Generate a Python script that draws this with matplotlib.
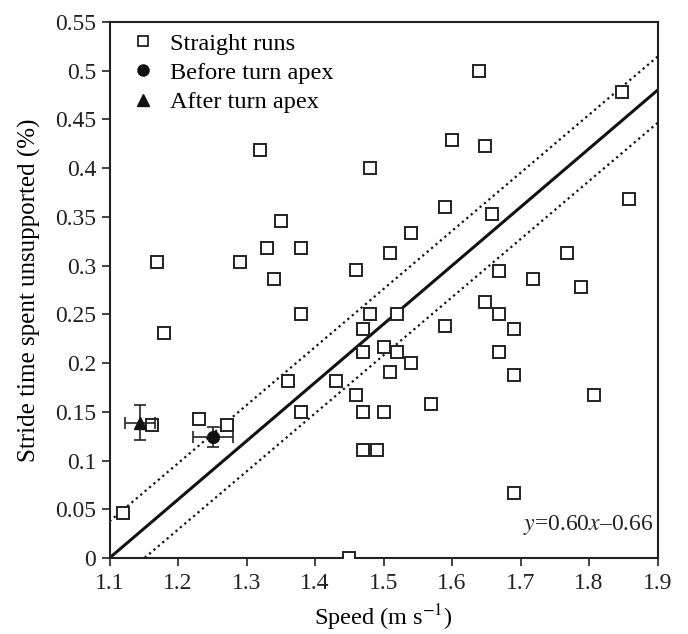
import matplotlib
matplotlib.use("Agg")
import matplotlib.pyplot as plt
import numpy as np
from matplotlib.lines import Line2D

plt.rcParams['font.family'] = ['Liberation Serif', 'DejaVu Serif']
plt.rcParams['mathtext.fontset'] = 'stix'

# Straight runs
straight_x = [1.12, 1.162, 1.17, 1.18, 1.231, 1.271, 1.29, 1.32, 1.33, 1.34,
              1.35, 1.36, 1.38, 1.38, 1.38, 1.43, 1.45, 1.46, 1.46, 1.47,
              1.47, 1.47, 1.47, 1.48, 1.48, 1.49, 1.50, 1.50, 1.51, 1.51,
              1.52, 1.52, 1.54, 1.54, 1.57, 1.59, 1.59, 1.60, 1.64, 1.648,
              1.648, 1.658, 1.669, 1.669, 1.669, 1.69, 1.69, 1.69, 1.718, 1.768,
              1.789, 1.807, 1.848, 1.858]
straight_y = [0.046, 0.136, 0.304, 0.231, 0.143, 0.136, 0.304, 0.419, 0.318, 0.286,
              0.346, 0.182, 0.318, 0.250, 0.150, 0.182, 0.0, 0.296, 0.167, 0.235,
              0.211, 0.150, 0.111, 0.400, 0.250, 0.111, 0.217, 0.150, 0.313, 0.191,
              0.250, 0.211, 0.333, 0.200, 0.158, 0.360, 0.238, 0.429, 0.500, 0.423,
              0.263, 0.353, 0.294, 0.250, 0.211, 0.235, 0.188, 0.067, 0.286, 0.313,
              0.278, 0.167, 0.478, 0.368]

# Before turn apex (mean with error)
before_x, before_y = [1.251], [0.124]
before_xerr, before_yerr = [0.029], [0.010]
# After turn apex
after_x, after_y = [1.145], [0.139]
after_xerr, after_yerr = [0.022], [0.018]

# Regression and confidence bands
fit_slope, fit_intercept = 0.60, -0.66
band_slope = 0.596
band_upper_intercept, band_lower_intercept = -0.618, -0.686

FS = 17

fig = plt.figure(figsize=(6.88, 6.34), dpi=100)
ax = fig.add_axes([109.5/688, 1 - 558/634, (657.5-109.5)/688, (558-22)/634])

xs = np.linspace(1.1, 1.9, 200)
ax.plot(xs, fit_slope*xs + fit_intercept, color='#111111', lw=2.2, zorder=2)
ax.plot(xs, band_slope*xs + band_upper_intercept, color='#111111', lw=1.6,
        linestyle=(0, (1, 1.6)), zorder=2)
ax.plot(xs, band_slope*xs + band_lower_intercept, color='#111111', lw=1.6,
        linestyle=(0, (1, 1.6)), zorder=2)

ax.plot(straight_x, straight_y, linestyle='none', marker='s', markersize=8.5,
        markerfacecolor='white', markeredgecolor='#222222', markeredgewidth=1.4, zorder=3)
ax.errorbar(before_x, before_y, xerr=before_xerr, yerr=before_yerr, fmt='o',
            markersize=8.5, color='#111111', ecolor='#222222', elinewidth=1.2,
            capsize=4, capthick=1.2, zorder=4)
ax.errorbar(after_x, after_y, xerr=after_xerr, yerr=after_yerr, fmt='^',
            markersize=8.5, color='#111111', ecolor='#222222', elinewidth=1.2,
            capsize=4, capthick=1.2, zorder=4)

ax.set_xlim(1.1, 1.9)
ax.set_ylim(0, 0.55)
xticks = [1.1, 1.2, 1.3, 1.4, 1.5, 1.6, 1.7, 1.8, 1.9]
yticks = [0, 0.05, 0.1, 0.15, 0.2, 0.25, 0.3, 0.35, 0.4, 0.45, 0.5, 0.55]
ax.set_xticks(xticks)
ax.set_xticklabels([f"{t:g}" for t in xticks])
ax.set_yticks(yticks)
ax.set_yticklabels([f"{t:g}" for t in yticks])
ax.tick_params(direction='out', length=6, width=1.2, labelsize=FS, colors='#222222')
ax.tick_params(axis='x', pad=5)
for s in ax.spines.values():
    s.set_linewidth(1.5)
    s.set_color('#222222')

ax.set_xlabel(r'Speed (m s$^{-1}$)', fontsize=FS + 0.5, labelpad=6)
ax.set_ylabel('Stride time spent unsupported (%)', fontsize=FS + 1, labelpad=10)

handles = [
    Line2D([], [], linestyle='none', marker='s', markersize=7, markerfacecolor='white',
           markeredgecolor='#222222', markeredgewidth=1.3),
    Line2D([], [], linestyle='none', marker='o', markersize=8, color='#111111'),
    Line2D([], [], linestyle='none', marker='^', markersize=8, color='#111111'),
]
ax.legend(handles, ['Straight runs', 'Before turn apex', 'After turn apex'],
          loc='upper left', frameon=False, fontsize=FS + 0.5, handletextpad=0.3,
          labelspacing=0.3, borderaxespad=0.3, handlelength=1.6,
          bbox_to_anchor=(-0.005, 1.012))

ax.text(1.895, 0.034, r'$\mathit{y}$=0.60$\mathit{x}$–0.66', fontsize=FS,
        ha='right', va='center', color='#222222')

fig.savefig('out.png', dpi=100)
